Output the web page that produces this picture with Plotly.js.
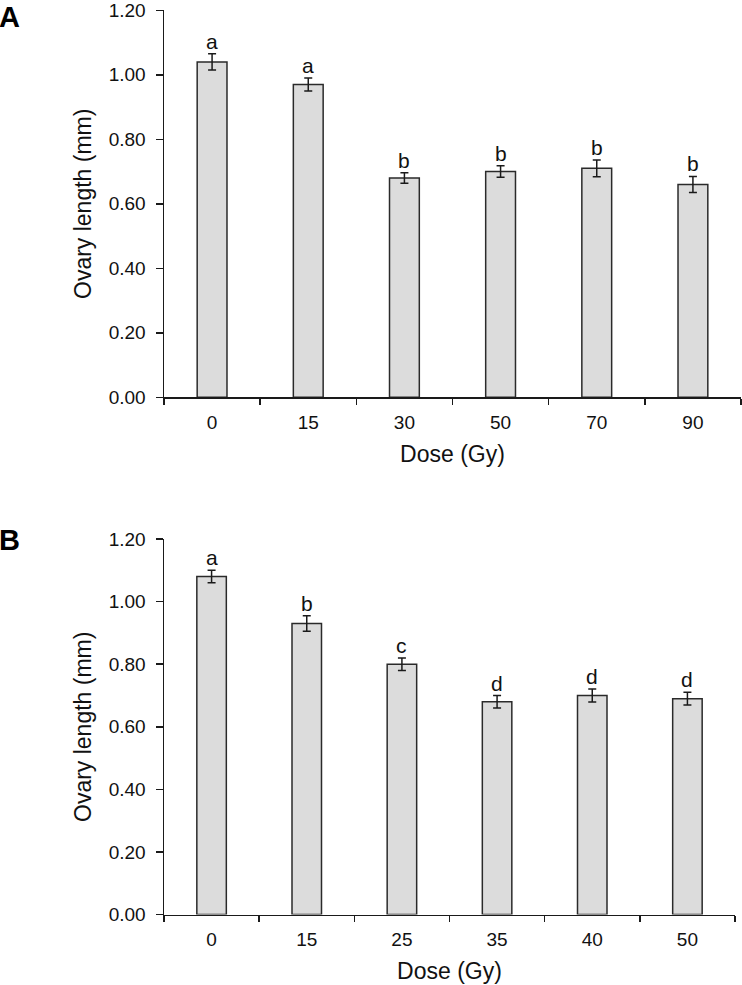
<!DOCTYPE html>
<html>
<head>
<meta charset="utf-8">
<script src="https://cdn.plot.ly/plotly-3.0.1.min.js"></script>
<style>html,body{margin:0;padding:0;background:#fff;}#chart{width:742px;height:985px;}</style>
</head>
<body>
<div id="chart"></div>
<script>
// Panel A data
var dosesA = ['0', '15', '30', '50', '70', '90'];
var lengthA = [1.04, 0.97, 0.68, 0.70, 0.71, 0.66];
var errA = [0.025, 0.02, 0.016, 0.018, 0.026, 0.025];
var lettersA = ['a', 'a', 'b', 'b', 'b', 'b'];

// Panel B data
var dosesB = ['0', '15', '25', '35', '40', '50'];
var lengthB = [1.08, 0.93, 0.80, 0.68, 0.70, 0.69];
var errB = [0.02, 0.025, 0.02, 0.02, 0.021, 0.02];
var lettersB = ['a', 'b', 'c', 'd', 'd', 'd'];

var yTicks = [0, 0.2, 0.4, 0.6, 0.8, 1.0, 1.2];

var FONT = 'Liberation Sans, Arial, Helvetica, sans-serif';
var W = 742, H = 985;

function barTrace(x, y, e, xa, ya) {
  return {
    type: 'bar', x: x, y: y, xaxis: xa, yaxis: ya,
    marker: {color: '#dcdcdc', line: {color: '#2a2a2a', width: 1.5}},
    error_y: {type: 'data', array: e, visible: true, color: '#1a1a1a', thickness: 1.5, width: 4},
    hoverinfo: 'x+y', showlegend: false
  };
}

var data = [
  barTrace(dosesA, lengthA, errA, 'x', 'y'),
  barTrace(dosesB, lengthB, errB, 'x2', 'y2')
];

var annotations = [];
function addLetters(x, y, e, letters, xref, yref) {
  for (var i = 0; i < x.length; i++) {
    annotations.push({
      x: i, y: y[i] + e[i], xref: xref, yref: yref,
      text: letters[i], showarrow: false, xanchor: 'center', yanchor: 'bottom',
      yshift: -1, font: {family: FONT, size: 21, color: '#111'}
    });
  }
}
addLetters(dosesA, lengthA, errA, lettersA, 'x', 'y');
addLetters(dosesB, lengthB, errB, lettersB, 'x2', 'y2');

annotations.push({xref: 'paper', yref: 'paper', x: 0, y: 1, xanchor: 'left', yanchor: 'top',
  xshift: -2, yshift: 0, borderpad: 0, text: '<b>A</b>', showarrow: false, font: {family: FONT, size: 29, color: '#000'}});
annotations.push({xref: 'paper', yref: 'paper', x: 0, y: 1 - 527 / H, xanchor: 'left', yanchor: 'top',
  xshift: -2, yshift: 4, borderpad: 0, text: '<b>B</b>', showarrow: false, font: {family: FONT, size: 29, color: '#000'}});

function xAxis(anchor, x1, cats) {
  return {
    domain: [164 / W, x1 / W], anchor: anchor, type: 'category',
    categoryorder: 'array', categoryarray: cats, range: [-0.5, cats.length - 0.5],
    showline: true, linecolor: '#1a1a1a', linewidth: 1.5,
    ticks: 'outside', ticklen: 6, tickwidth: 1.5, tickcolor: '#1a1a1a', tickson: 'boundaries',
    tickangle: 0, ticklabelstandoff: 7, ticklabeloverflow: 'allow',
    showgrid: false, zeroline: false, automargin: true,
    tickfont: {family: FONT, size: 19, color: '#111'},
    title: {text: 'Dose (Gy)', standoff: 14, font: {family: FONT, size: 23, color: '#111'}}
  };
}
function yAxis(anchor, top, bottom) {
  return {
    domain: [1 - bottom / H, 1 - top / H], anchor: anchor,
    range: [0, 1.2], tickvals: yTicks, tickformat: '.2f',
    showline: true, linecolor: '#1a1a1a', linewidth: 1.5,
    ticks: 'outside', ticklen: 7, tickwidth: 1.5, tickcolor: '#1a1a1a',
    ticklabelstandoff: 6, ticklabeloverflow: 'allow',
    showgrid: false, zeroline: false, automargin: true,
    tickfont: {family: FONT, size: 19, color: '#111'},
    title: {text: 'Ovary length (mm)', standoff: 10, font: {family: FONT, size: 23, color: '#111'}}
  };
}

var layout = {
  width: W, height: H,
  margin: {l: 0, r: 0, t: 0, b: 0, autoexpand: false},
  paper_bgcolor: '#fff', plot_bgcolor: '#fff',
  font: {family: FONT},
  bargap: 0.69,
  xaxis: xAxis('y', 741, dosesA),
  yaxis: yAxis('x', 10.3, 397.3),
  xaxis2: xAxis('y2', 735, dosesB),
  yaxis2: yAxis('x2', 539, 914.6),
  annotations: annotations
};

Plotly.newPlot('chart', data, layout, {displayModeBar: false, staticPlot: true});
</script>
</body>
</html>
